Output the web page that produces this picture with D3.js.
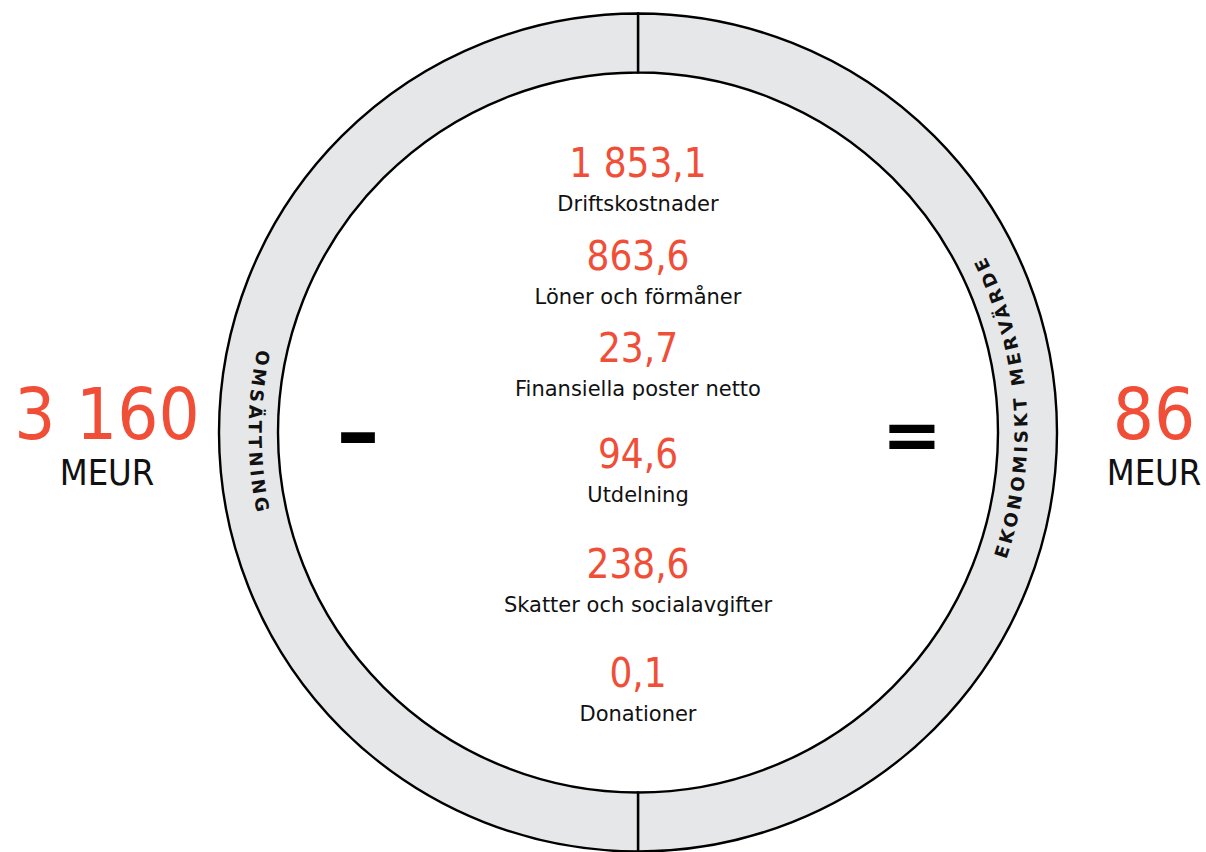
<!DOCTYPE html>
<html>
<head>
<meta charset="utf-8">
<script src="https://cdn.jsdelivr.net/npm/d3@7"></script>
<style>
  body { margin: 0; background: #fff; }
  .num { font-family: "DejaVu Sans Condensed", "DejaVu Sans", sans-serif; fill: #f04e37; }
  .lbl { font-family: "DejaVu Sans", sans-serif; fill: #111; }
</style>
</head>
<body>
<div id="chart"></div>
<script>
// ring halves (right = result, left = revenue)
var ringLabels = ["EKONOMISKT MERVÄRDE", "OMSÄTTNING"];
var ringShare = [1, 1];

// cost items inside the ring, MEUR
var itemLabels = ["Driftskostnader", "Löner och förmåner", "Finansiella poster netto",
                  "Utdelning", "Skatter och socialavgifter", "Donationer"];
var itemValues = [1853.1, 863.6, 23.7, 94.6, 238.6, 0.1];

// totals on the sides
var revenue = 3160;
var addedValue = 86;
var unit = "MEUR";

var width = 1206,
    height = 852,
    cx = 638,
    cy = 432.5,
    rInner = 360,
    rOuter = 419,
    rText = 383;

var sv = d3.formatLocale({decimal: ",", thousands: " ", grouping: [3], currency: ["", ""]});
var fmt1 = sv.format(",.1f"),
    fmt0 = sv.format(",d");

var svg = d3.select("#chart").append("svg")
    .attr("width", width)
    .attr("height", height);

var g = svg.append("g")
    .attr("transform", "translate(" + cx + "," + cy + ")");

// ring
var pie = d3.pie().sort(null).value(function(d) { return d; });
var arc = d3.arc().innerRadius(rInner).outerRadius(rOuter);

g.selectAll(".half")
    .data(pie(ringShare))
    .enter().append("path")
    .attr("class", "half")
    .attr("d", arc)
    .style("fill", "#e6e7e8")
    .style("stroke", "#000")
    .style("stroke-width", 2.4);

// paths for the ring labels, both running counter clockwise
var defs = svg.append("defs");
defs.append("path")
    .attr("id", "pathRight")
    .attr("d", "M" + cx + "," + (cy + rText) + " A" + rText + "," + rText + " 0 0 0 " + cx + "," + (cy - rText));
defs.append("path")
    .attr("id", "pathLeft")
    .attr("d", "M" + cx + "," + (cy - rText) + " A" + rText + "," + rText + " 0 0 0 " + cx + "," + (cy + rText));

var ringText = svg.selectAll(".ringlbl")
    .data(ringLabels)
    .enter().append("text")
    .attr("class", "ringlbl")
    .attr("dy", "0.36em")
    .style("font-family", "'DejaVu Sans', sans-serif")
    .style("font-weight", "bold")
    .style("font-size", "18px")
    .style("letter-spacing", "3px")
    .style("fill", "#111");

ringText.append("textPath")
    .attr("href", function(d, i) { return i == 0 ? "#pathRight" : "#pathLeft"; })
    .attr("startOffset", function(d, i) { return i == 0 ? "52.3%" : "50%"; })
    .attr("text-anchor", "middle")
    .text(function(d) { return d; });

// rows inside the ring
var y = d3.scaleLinear()
    .domain([0, 2, 3, 5])
    .range([177, 362, 468, 687]);

var rows = svg.selectAll(".row")
    .data(itemValues)
    .enter().append("g")
    .attr("class", "row")
    .attr("transform", function(d, i) { return "translate(" + cx + "," + y(i) + ")"; });

rows.append("text")
    .attr("class", "num")
    .attr("text-anchor", "middle")
    .style("font-size", "40px")
    .text(function(d) { return fmt1(d); });

rows.append("text")
    .attr("class", "lbl")
    .attr("text-anchor", "middle")
    .attr("y", 34)
    .style("font-size", "21px")
    .text(function(d, i) { return itemLabels[i]; });

// side totals
var sides = [{v: revenue, x: 107}, {v: addedValue, x: 1154}];
var side = svg.selectAll(".side")
    .data(sides)
    .enter().append("g")
    .attr("class", "side")
    .attr("transform", function(d) { return "translate(" + d.x + ",0)"; });

side.append("text")
    .attr("class", "num")
    .attr("text-anchor", "middle")
    .attr("y", 439)
    .style("font-size", "72px")
    .text(function(d) { return fmt0(d.v); });

side.append("text")
    .attr("class", "lbl")
    .attr("text-anchor", "middle")
    .attr("y", 485)
    .style("font-family", "'DejaVu Sans Condensed', 'DejaVu Sans', sans-serif")
    .style("font-size", "36px")
    .text(unit);

// operators
svg.append("text")
    .attr("x", 358)
    .attr("y", 461)
    .attr("text-anchor", "middle")
    .style("font-family", "'DejaVu Sans', sans-serif")
    .style("font-weight", "bold")
    .style("font-size", "86px")
    .text("–");

svg.append("text")
    .attr("x", 912)
    .attr("y", 459)
    .attr("text-anchor", "middle")
    .style("font-family", "'DejaVu Sans', sans-serif")
    .style("font-weight", "bold")
    .style("font-size", "72px")
    .text("=");
</script>
</body>
</html>
